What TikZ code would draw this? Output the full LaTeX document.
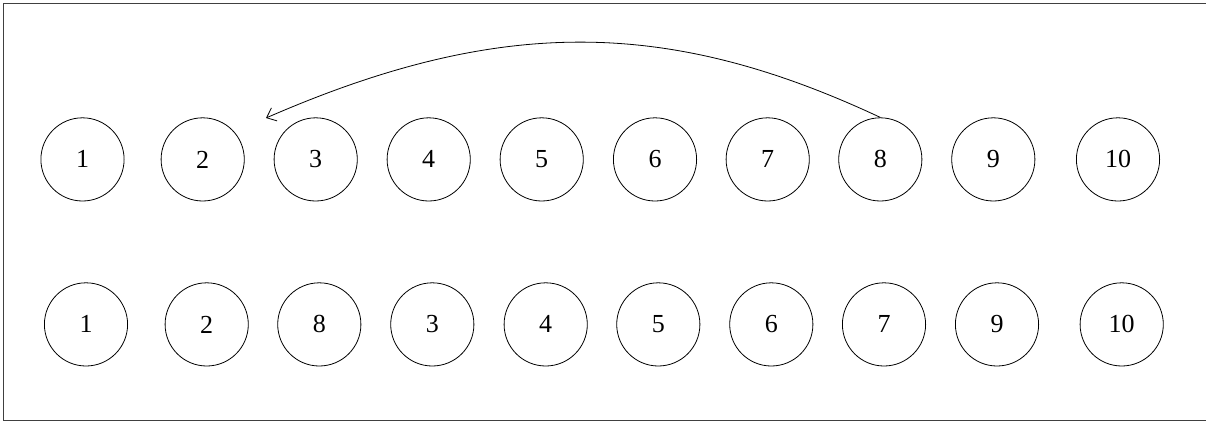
\documentclass[tikz,border=0pt]{standalone}
\usepackage{fontspec}
\setmainfont{Liberation Serif}
\usetikzlibrary{arrows.meta}
\begin{document}
\begin{tikzpicture}[x=0.75pt,y=-0.75pt,
  ball/.style={circle,draw,line width=0.6pt,minimum size=62.4pt,inner sep=0pt,
    font=\fontsize{19.5}{23}\selectfont},
  frame/.style={draw=black!75,line width=0.75pt},
  move/.style={-{Straight Barb[length=6.3pt,width=10.6pt,line width=0.6pt]},line width=0.6pt}]
\useasboundingbox (0,0) rectangle (1206,421);
\draw[frame] (1206,3) -- (3,3) -- (3,420.5) -- (1206,420.5);
% top row
\foreach \x/\n/\t in {82.5/1/1,202.7/2/2,315.7/3/3,428.7/4/4,541.7/5/5,655/6/6,767.7/7/7,880.3/8/8,993.3/9/9,1118/10/10}
  \node[ball] (t\n) at (\x,159.4) {\t};
% bottom row
\foreach \x/\n/\t in {86/1/1,206.7/2/2,319.3/3/8,432.3/4/3,545.7/5/4,658.3/6/5,771.3/7/6,884/8/7,997/9/9,1121.7/10/10}
  \node[ball] (b\n) at (\x,324.4) {\t};
\coordinate (tip) at (266,118);
\draw[move] (t8.north) .. controls (668,18) and (500,16) .. (tip);
\end{tikzpicture}
\end{document}
